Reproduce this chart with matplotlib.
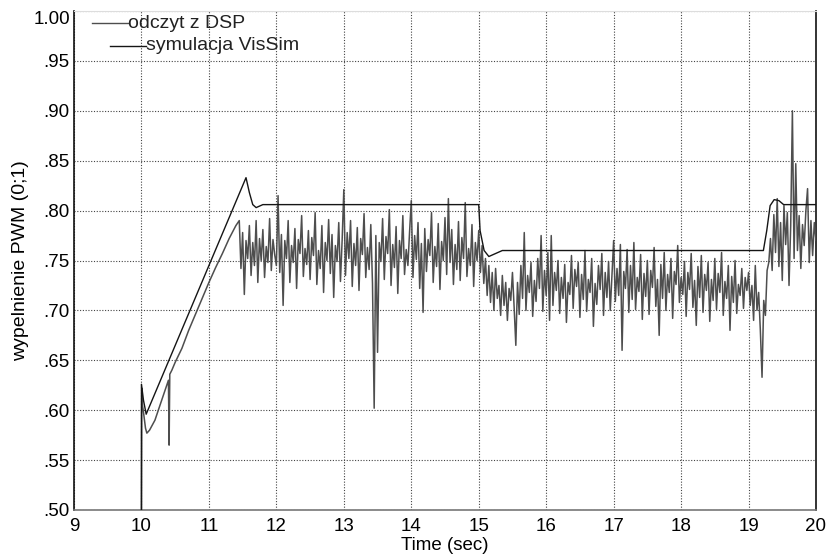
import numpy as np
import matplotlib
matplotlib.use("Agg")
import matplotlib.pyplot as plt
from matplotlib.lines import Line2D

# ---------------- data ----------------
# simulation (VisSim) - smooth response
sim_t = [10.0, 10.0, 10.03, 10.07, 11.55, 11.6, 11.65, 11.7, 11.8, 15.0, 15.02, 15.08,
         15.15, 15.25, 15.35, 19.22, 19.27, 19.32, 19.38, 19.45, 19.52, 20.0]
sim_v = [0.500, 0.626, 0.610, 0.596, 0.833, 0.818, 0.806, 0.803, 0.806, 0.806, 0.780, 0.760,
         0.754, 0.757, 0.760, 0.760, 0.780, 0.805, 0.811, 0.810, 0.806, 0.806]

# DSP reading - start-up ramp
dsp_ramp_t = [10.0, 10.005, 10.015, 10.03, 10.06, 10.08, 10.12, 10.16, 10.2, 10.25, 10.3,
              10.35, 10.4, 10.41, 10.42, 10.45, 10.5, 10.6, 10.7, 10.8, 10.9, 11.0, 11.1,
              11.2, 11.3, 11.4]
dsp_ramp_v = [500, 622, 605, 598, 582, 577, 580, 585, 590, 600, 610, 620, 630, 565, 636,
              640, 648, 662, 680, 696, 712, 728, 743, 757, 772, 785]

# DSP reading - sampled every 0.025 s from 11.45 s (values in thousandths)
dsp_start = 11.45
dsp_dt = 0.025
dsp_v = [
    790, 742, 778, 716, 770, 752, 785, 735, 768, 745, 790, 728, 772, 750, 781, 733, 764, 748, 792, 740, 771, 756,
    745, 815, 738, 776, 705, 770, 752, 790, 728, 765, 748, 782, 722, 771, 757, 795, 734, 762, 746, 780,
    731, 773, 755, 798, 726, 760, 742, 785, 718, 768, 750, 791, 737, 776, 713, 765, 749, 788, 729, 770,
    821, 735, 778, 752, 790, 724, 767, 745, 783, 720, 772, 756, 797, 733, 763, 741, 786, 727, 602, 775,
    658, 768, 749, 792, 731, 774, 757, 801, 725, 766, 743, 784, 717, 770, 752, 795, 736, 761, 745, 779,
    810, 733, 775, 751, 788, 722, 767, 698, 782, 739, 771, 755, 798, 728, 764, 744, 787, 721, 769, 750,
    793, 736, 812, 748, 781, 726, 766, 741, 789, 730, 773, 752, 808, 734, 762, 745, 786, 724, 768, 750,
    780, 738, 765, 727, 752, 715, 745, 708, 738, 700, 742, 712, 725, 695, 735, 705, 728, 690, 722, 710,
    738, 703, 665, 728, 696, 745, 712, 778, 700, 735, 718, 748, 694, 730, 709, 752, 722, 775, 699, 740,
    715, 758, 690, 775, 705, 738, 720, 750, 697, 733, 712, 746, 688, 728, 716, 755, 702, 741, 724, 748,
    693, 736, 711, 760, 699, 731, 718, 752, 684, 727, 706, 745, 721, 757, 695, 738, 713, 749, 700, 735,
    770, 709, 742, 715, 766, 660, 739, 722, 761, 698, 745, 711, 768, 701, 733, 719, 756, 691, 737, 714,
    750, 696, 740, 723, 763, 704, 731, 675, 746, 712, 758, 700, 736, 718, 752, 692, 739, 726, 765, 708,
    733, 716, 749, 694, 738, 721, 757, 703, 730, 685, 744, 713, 755, 698, 736, 720, 748, 689, 731, 710,
    752, 701, 737, 718, 758, 695, 729, 712, 745, 680, 734, 708, 750, 697, 726, 715, 742, 702, 733, 720,
    738, 705, 725, 690, 745, 700, 718, 680, 633, 710, 695, 740,
    748, 772, 740, 796, 758, 812, 744, 788, 730, 805, 766, 798, 725, 785, 900, 752, 847, 760, 795, 742,
    786, 765, 800, 822, 748, 790, 755, 788, 770,
]

x_ticks = [9, 10, 11, 12, 13, 14, 15, 16, 17, 18, 19, 20]
y_ticks = [0.50, 0.55, 0.60, 0.65, 0.70, 0.75, 0.80, 0.85, 0.90, 0.95, 1.00]
y_tick_labels = ['.50', '.55', '.60', '.65', '.70', '.75', '.80', '.85', '.90', '.95', '1.00']
legend_labels = ['odczyt z DSP', 'symulacja VisSim']

# ---------------- build series ----------------
dsp_noise_t = dsp_start + dsp_dt * np.arange(len(dsp_v))
dsp_t_all = np.concatenate([np.array(dsp_ramp_t), dsp_noise_t])
dsp_v_all = np.concatenate([np.array(dsp_ramp_v), np.array(dsp_v)]) / 1000.0

# ---------------- plot ----------------
plt.rcParams['font.family'] = ['Liberation Sans', 'DejaVu Sans']
fig = plt.figure(figsize=(8.29, 5.58), dpi=100)
ax = fig.add_axes([74 / 829, 1 - 510 / 558, (816 - 74) / 829, (510 - 11) / 558])

dsp_color = '#4e4e4e'
sim_color = '#151515'
ax.plot(dsp_t_all, dsp_v_all, color=dsp_color, lw=1.1, zorder=3)
ax.plot(sim_t, sim_v, color=sim_color, lw=1.0, zorder=4)

ax.set_xlim(9, 20)
ax.set_ylim(0.5, 1.0)
ax.set_xticks(x_ticks)
ax.set_yticks(y_ticks)
ax.set_yticklabels(y_tick_labels)
ax.tick_params(axis='both', length=0, labelsize=13.5, colors='black')
ax.tick_params(axis='x', pad=6)
ax.tick_params(axis='y', pad=3)
ax.get_yticklabels()[-1].set_verticalalignment('top')
ax.grid(True, linestyle=(0, (1, 1.5)), color='#444444', lw=0.8)

for s in ['left', 'right']:
    ax.spines[s].set_color('#111111')
    ax.spines[s].set_linewidth(1.2)
ax.spines['bottom'].set_color('#777777')
ax.spines['bottom'].set_linewidth(1.2)
ax.spines['top'].set_color('#dddddd')
ax.spines['top'].set_linewidth(0.8)

ax.set_xlabel('Time (sec)', fontsize=13.5, labelpad=1)
ax.set_ylabel('wypelnienie PWM (0;1)', fontsize=14, labelpad=3)

# VisSim-style staggered legend
def axpt(px, py):
    return ((px - 74) / (816 - 74), (510 - py) / (510 - 11))

for (x0, x1, y, txt, col) in [(92, 128, 23, legend_labels[0], dsp_color),
                              (110, 146, 46, legend_labels[1], sim_color)]:
    a0 = axpt(x0, y)
    a1 = axpt(x1, y)
    ax.add_line(Line2D([a0[0], a1[0]], [a0[1], a1[1]], transform=ax.transAxes,
                       color=col, lw=1.0, clip_on=False, zorder=5))
    ax.text(a1[0], a1[1], txt, transform=ax.transAxes, fontsize=14,
            va='center', ha='left', color='#222222', zorder=5)

fig.savefig('out.png', dpi=100)
